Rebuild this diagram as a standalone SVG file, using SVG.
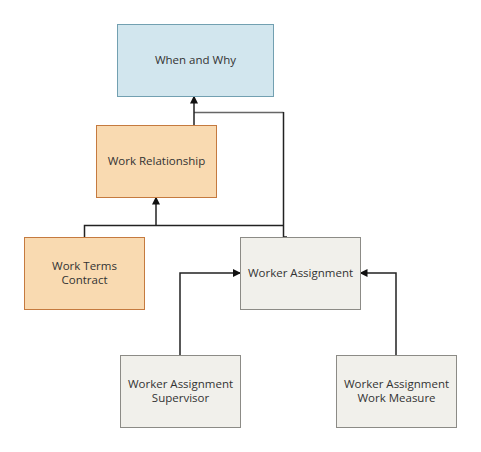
<svg xmlns="http://www.w3.org/2000/svg" width="481" height="452" viewBox="0 0 481 452">
<style>
.t{font-family:"Open Sans","Noto Sans",sans-serif;font-size:11.5px;fill:#333;text-anchor:middle}
.blue{fill:#d2e6ee;stroke:#72a0b1;stroke-width:1}
.org{fill:#f9dab1;stroke:#c57a3f;stroke-width:1}
.gry{fill:#f1f0eb;stroke:#8c8b86;stroke-width:1}
.c{fill:none;stroke:#222;stroke-width:1.5}
.c2{fill:none;stroke:#666;stroke-width:1.3}
</style>
<defs>
<marker id="ah" markerWidth="8" markerHeight="8" refX="7" refY="4" orient="auto" markerUnits="userSpaceOnUse">
<path d="M0,0 L8,4 L0,8 Z" fill="#111"/>
</marker>
</defs>
<rect width="481" height="452" fill="#fff"/>
<g id="connectors">
<path class="c2" d="M194,112.5 H283.5"/>
<path class="c" d="M194,125 V96.5" marker-end="url(#ah)"/>
<path class="c" d="M283.5,112 V237 H287"/>
<path class="c" d="M84.5,237 V225.5 H283.5"/>
<path class="c" d="M156,225.5 V197.5" marker-end="url(#ah)"/>
<path class="c" d="M180,355 V273 H240" marker-end="url(#ah)"/>
<path class="c" d="M396,355 V273 H360.5" marker-end="url(#ah)"/>
</g>
<g id="when-and-why">
<rect class="blue" x="117.5" y="24.5" width="156" height="72"/>
<text class="t" x="195.5" y="64">When and Why</text>
</g>
<g id="work-relationship">
<rect class="org" x="96.5" y="125.5" width="120" height="72"/>
<text class="t" x="156.5" y="165">Work Relationship</text>
</g>
<g id="work-terms-contract">
<rect class="org" x="24.5" y="237.5" width="120" height="72"/>
<text class="t" x="84.5" y="270">Work Terms</text>
<text class="t" x="84.5" y="284">Contract</text>
</g>
<g id="worker-assignment">
<rect class="gry" x="240.5" y="237.5" width="120" height="72"/>
<text class="t" x="300.5" y="277">Worker Assignment</text>
</g>
<g id="worker-assignment-supervisor">
<rect class="gry" x="120.5" y="355.5" width="120" height="72"/>
<text class="t" x="180.5" y="388">Worker Assignment</text>
<text class="t" x="180.5" y="402">Supervisor</text>
</g>
<g id="worker-assignment-work-measure">
<rect class="gry" x="336.5" y="355.5" width="120" height="72"/>
<text class="t" x="396.5" y="388">Worker Assignment</text>
<text class="t" x="396.5" y="402">Work Measure</text>
</g>
</svg>
